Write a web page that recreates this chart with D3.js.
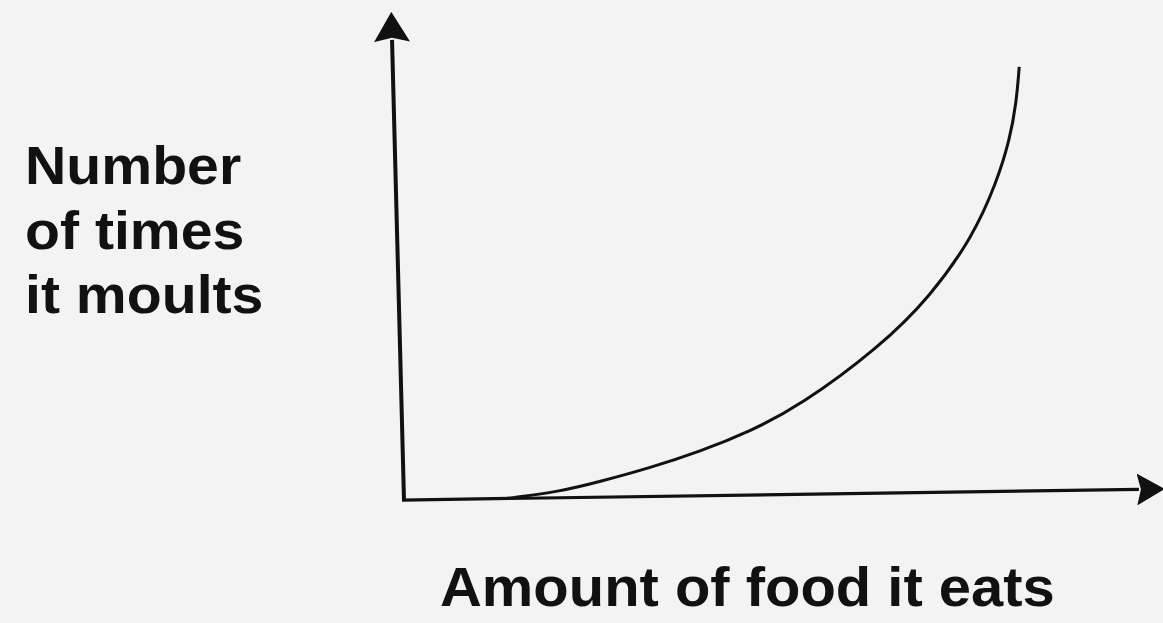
<!DOCTYPE html>
<html>
<head>
<meta charset="utf-8">
<script src="https://cdn.jsdelivr.net/npm/d3@7"></script>
<style>
  body { margin: 0; background: #f3f3f3; }
  svg { display: block; }
  .label { font-family: "Liberation Sans", Arial, sans-serif; font-weight: bold; fill: #111; }
</style>
</head>
<body>
<div id="chart"></div>
<script>
var svgWidth = 1163;
var svgHeight = 623;

// (arbitrary units, axes go 0..10)
var amountFood = [1.35, 2.05, 2.58, 3.25, 3.91, 4.57, 5.24, 6.31, 6.99, 7.57, 7.90, 8.09, 8.19, 8.24];
var moultCount = [0, 0.13, 0.33, 0.61, 0.94, 1.35, 1.88, 3.11, 4.16, 5.42, 6.56, 7.47, 8.26, 9.02];
var xAxisEnd = 9.67;
var yAxisEnd = 9.79;
var yLabelLines = ["Number", "of times", "it moults"];
var xLabel = "Amount of food it eats";

var svg = d3.select("#chart")
  .append("svg")
  .attr("width", svgWidth)
  .attr("height", svgHeight);

var defs = svg.append("defs");
defs.append("marker")
  .attr("id", "arrowX")
  .attr("markerUnits", "userSpaceOnUse")
  .attr("viewBox", "0 0 28 32")
  .attr("markerWidth", 28)
  .attr("markerHeight", 32)
  .attr("refX", 2)
  .attr("refY", 16)
  .attr("orient", "auto")
  .append("path")
  .attr("d", "M0,0L28,16L0,32L4,16Z")
  .attr("fill", "#111");

defs.append("marker")
  .attr("id", "arrowY")
  .attr("markerUnits", "userSpaceOnUse")
  .attr("viewBox", "0 0 30 36")
  .attr("markerWidth", 30)
  .attr("markerHeight", 36)
  .attr("refX", 2)
  .attr("refY", 18)
  .attr("orient", "auto")
  .append("path")
  .attr("d", "M0,0L30,18L0,36L4,18Z")
  .attr("fill", "#111");

// the scan is a little skewed, so the plot group is sheared a bit
var chartGroup = svg.append("g")
  .attr("transform", "matrix(1,-0.0145,0.026,1,404,500)");

var xScale = d3.scaleLinear().domain([0, 10]).range([0, 760]);
var yScale = d3.scaleLinear().domain([0, 10]).range([0, -470]);

chartGroup.append("line")
  .attr("x1", xScale(0)).attr("y1", yScale(0))
  .attr("x2", xScale(0)).attr("y2", yScale(yAxisEnd))
  .attr("stroke", "#111")
  .attr("stroke-width", 4)
  .attr("marker-end", "url(#arrowY)");

chartGroup.append("line")
  .attr("x1", xScale(0) - 2).attr("y1", yScale(0))
  .attr("x2", xScale(xAxisEnd)).attr("y2", yScale(0))
  .attr("stroke", "#111")
  .attr("stroke-width", 3.2)
  .attr("marker-end", "url(#arrowX)");

var points = amountFood.map(function(d, i) { return [d, moultCount[i]]; });

var line = d3.line()
  .x(d => xScale(d[0]))
  .y(d => yScale(d[1]))
  .curve(d3.curveBasis);

chartGroup.append("path")
  .datum(points)
  .attr("d", line)
  .attr("fill", "none")
  .attr("stroke", "#111")
  .attr("stroke-width", 3);

svg.append("g")
  .selectAll("text")
  .data(yLabelLines)
  .enter()
  .append("text")
  .attr("class", "label")
  .attr("transform", (d, i) => `translate(25, ${184 + i * 64.5}) scale(1.06, 1)`)
  .attr("font-size", 54)
  .text(d => d);

svg.append("text")
  .attr("class", "label")
  .attr("transform", "translate(440, 606) scale(1.035, 1)")
  .attr("font-size", 56)
  .text(xLabel);
</script>
</body>
</html>
